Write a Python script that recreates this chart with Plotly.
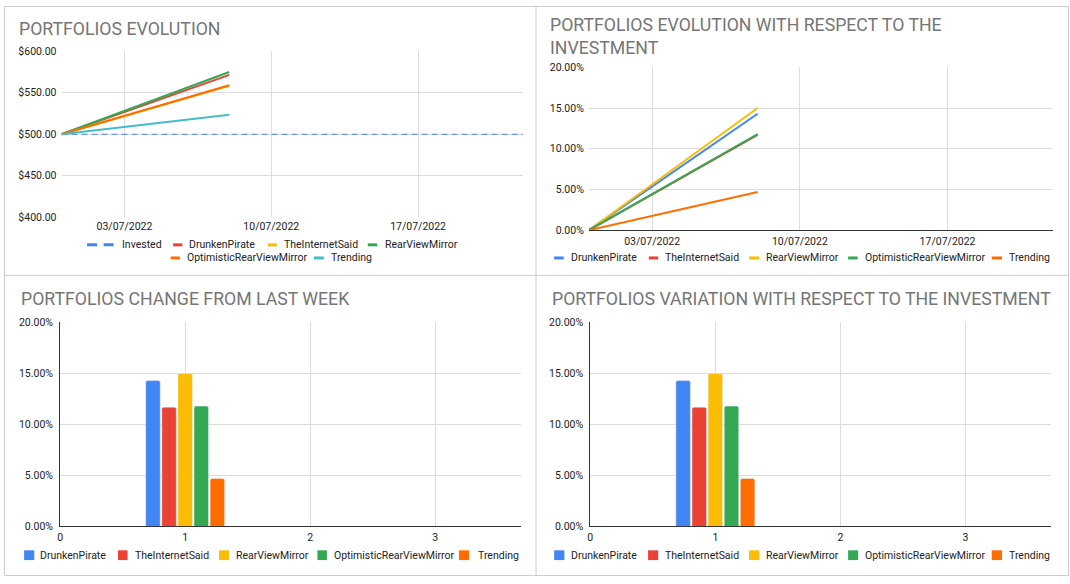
import plotly.graph_objects as go

W, H = 1070, 584

# ---------------- data ----------------
line_dates = ["2022-06-30", "2022-07-08"]
invested_dates = ["2022-06-30", "2022-07-08", "2022-07-15", "2022-07-22"]
invested_values = [500.0, 500.0, 500.0, 500.0]

series_names = ["DrunkenPirate", "TheInternetSaid", "RearViewMirror",
                "OptimisticRearViewMirror", "Trending"]

# portfolio values ($)
drunken_pirate_values = [500.0, 571.5]
the_internet_said_values = [500.0, 558.5]
rear_view_mirror_values = [500.0, 575.0]
optimistic_values = [500.0, 559.0]
trending_values = [500.0, 523.5]

# evolution with respect to the investment (fraction)
drunken_pirate_pct = [0.0, 0.143]
the_internet_said_pct = [0.0, 0.117]
rear_view_mirror_pct = [0.0, 0.150]
optimistic_pct = [0.0, 0.118]
trending_pct = [0.0, 0.047]

# change from last week (fraction)
week_numbers = [1]
drunken_pirate_week = [0.143]
the_internet_said_week = [0.117]
rear_view_mirror_week = [0.150]
optimistic_week = [0.118]
trending_week = [0.047]

# variation with respect to the investment (fraction)
drunken_pirate_var = [0.143]
the_internet_said_var = [0.117]
rear_view_mirror_var = [0.150]
optimistic_var = [0.118]
trending_var = [0.047]

date_ticks = ["2022-07-03", "2022-07-10", "2022-07-17"]

# ---------------- styling ----------------
BLUE, RED, YELLOW, GREEN, ORANGE, TEAL = ("#4285F4", "#EA4335", "#FBBC04",
                                          "#34A853", "#FF6D01", "#46BDC6")
FONT = "Roboto"
TICK_FONT = dict(family=FONT, size=10.5, color="#222222")
TITLE_FONT = dict(family=FONT, size=17.7, color="#757575")
GRID = "#dcdcdc"
AXIS_DARK = "#333333"
BORDER = "#cccccc"


def fx(px):
    return px / W


def fy(py):
    return 1 - py / H


def xdom(a, b):
    return [fx(a), fx(b)]


def ydom(top, bottom):
    return [fy(bottom), fy(top)]


fig = go.Figure()

# ---- top-left: values ----
tl_series = [
    ("Invested", invested_dates, invested_values, BLUE, "6px,4px", 1.2),
    ("DrunkenPirate", line_dates, drunken_pirate_values, RED, "solid", 2),
    ("TheInternetSaid", line_dates, the_internet_said_values, YELLOW, "solid", 2),
    ("RearViewMirror", line_dates, rear_view_mirror_values, GREEN, "solid", 2),
    ("OptimisticRearViewMirror", line_dates, optimistic_values, ORANGE, "solid", 2),
    ("Trending", line_dates, trending_values, TEAL, "solid", 2),
]
for name, xs, ys, c, d, w in tl_series:
    fig.add_trace(go.Scatter(x=xs, y=ys, name=name, mode="lines",
                             line=dict(color=c, width=w, dash=d),
                             xaxis="x", yaxis="y", showlegend=False))

# ---- top-right: percentage evolution ----
tr_values = [drunken_pirate_pct, the_internet_said_pct, rear_view_mirror_pct,
             optimistic_pct, trending_pct]
five_colors = [BLUE, RED, YELLOW, GREEN, ORANGE]
for name, ys, c in zip(series_names, tr_values, five_colors):
    fig.add_trace(go.Scatter(x=line_dates, y=ys, name=name, mode="lines",
                             line=dict(color=c, width=2),
                             xaxis="x2", yaxis="y2", showlegend=False))

# ---- bottom-left: change from last week ----
bl_values = [drunken_pirate_week, the_internet_said_week, rear_view_mirror_week,
             optimistic_week, trending_week]
for name, ys, c in zip(series_names, bl_values, five_colors):
    fig.add_trace(go.Bar(x=week_numbers, y=ys, name=name, marker_color=c,
                         xaxis="x3", yaxis="y3", showlegend=False))

# ---- bottom-right: variation ----
br_values = [drunken_pirate_var, the_internet_said_var, rear_view_mirror_var,
             optimistic_var, trending_var]
for name, ys, c in zip(series_names, br_values, five_colors):
    fig.add_trace(go.Bar(x=week_numbers, y=ys, name=name, marker_color=c,
                         xaxis="x4", yaxis="y4", showlegend=False))

# ---------------- axes ----------------
date_axis = dict(type="date", range=["2022-06-30", "2022-07-22"],
                 tickvals=date_ticks, tickformat="%d/%m/%Y",
                 showgrid=True, gridcolor=GRID, gridwidth=1,
                 zeroline=False, ticks="", tickfont=TICK_FONT,
                 ticklabelstandoff=1, fixedrange=True)
num_axis = dict(range=[0, 3.685], tick0=0, dtick=1, showgrid=True,
                gridcolor=GRID, zeroline=False, ticks="", tickfont=TICK_FONT,
                showline=True, linecolor=AXIS_DARK, linewidth=1,
                ticklabelstandoff=1)
pct_axis = dict(range=[0, 0.2], tick0=0, dtick=0.05, tickformat=".2%",
                showgrid=True, gridcolor=GRID, zeroline=False, ticks="",
                tickfont=TICK_FONT, ticklabelstandoff=4)

fig.update_layout(
    xaxis=dict(date_axis, domain=xdom(58.7, 521.4), anchor="y", showline=False),
    yaxis=dict(domain=ydom(46.3, 216), anchor="x", range=[400, 600], dtick=50,
               tick0=400, tickprefix="$", tickformat=",.2f", showgrid=True,
               gridcolor=GRID, zeroline=False, ticks="", tickfont=TICK_FONT,
               ticklabelstandoff=4),
    xaxis2=dict(date_axis, domain=xdom(587.5, 1053), anchor="y2",
                showline=True, linecolor=AXIS_DARK, linewidth=1),
    yaxis2=dict(pct_axis, domain=ydom(62.7, 229.3), anchor="x2"),
    xaxis3=dict(num_axis, domain=xdom(57.3, 519.3), anchor="y3"),
    yaxis3=dict(pct_axis, domain=ydom(323.7, 532.3), anchor="x3",
                showline=True, linecolor=AXIS_DARK, linewidth=1),
    xaxis4=dict(num_axis, domain=xdom(588.9, 1051.2), anchor="y4"),
    yaxis4=dict(pct_axis, domain=ydom(323.7, 532.3), anchor="x4",
                showline=True, linecolor=AXIS_DARK, linewidth=1),
    barmode="group", bargap=0.356, bargroupgap=0.1, barcornerradius=2,
    width=W, height=H, margin=dict(l=0, r=0, t=0, b=0),
    paper_bgcolor="white", plot_bgcolor="white", showlegend=False,
    font=dict(family=FONT),
)

shapes = []
annotations = []

# ---------------- panel borders ----------------
shapes.append(dict(type="rect", xref="paper", yref="paper",
                   x0=fx(1.5), x1=fx(1068.5), y0=fy(582.5), y1=fy(0.5),
                   line=dict(color=BORDER, width=1), fillcolor="rgba(0,0,0,0)"))
shapes.append(dict(type="line", xref="paper", yref="paper",
                   x0=fx(534.5), x1=fx(534.5), y0=fy(582.5), y1=fy(0.5),
                   line=dict(color=BORDER, width=1)))
shapes.append(dict(type="line", xref="paper", yref="paper",
                   x0=fx(1.5), x1=fx(1068.5), y0=fy(275.5), y1=fy(275.5),
                   line=dict(color=BORDER, width=1)))

# ---------------- titles ----------------
titles = [
    ("PORTFOLIOS EVOLUTION", 15.5, 23.3),
    ("PORTFOLIOS EVOLUTION WITH RESPECT TO THE<br>INVESTMENT", 548.0, 31.6),
    ("PORTFOLIOS CHANGE FROM LAST WEEK", 17.0, 299.2),
    ("PORTFOLIOS VARIATION WITH RESPECT TO THE INVESTMENT", 549.5, 299.2),
]
for text, x, y in titles:
    annotations.append(dict(text=text, xref="paper", yref="paper", x=fx(x),
                            y=fy(y), xanchor="left", yanchor="middle",
                            align="left", showarrow=False, font=TITLE_FONT,
                            borderpad=0))

# ---------------- legends ----------------
# (kind, color, label, marker_x0, marker_x1, text_x, y_center)
legend_items = [
    ("dash", BLUE, "Invested", 84.3, 110.9, 119.4, 244.3),
    ("line", RED, "DrunkenPirate", 170.6, 179.8, 187.0, 244.3),
    ("line", YELLOW, "TheInternetSaid", 265.5, 274.7, 281.8, 244.3),
    ("line", GREEN, "RearViewMirror", 365.8, 375.3, 382.8, 244.3),
    ("line", ORANGE, "OptimisticRearViewMirror", 168.2, 177.4, 184.2, 257.7),
    ("line", TEAL, "Trending", 311.9, 321.7, 328.6, 257.7),
]
tr_leg = [(552.7, 562.3, 569.1), (647.6, 657.1, 664.0), (748.2, 758.5, 765.3),
          (847.5, 857.1, 864.3), (991.5, 1001.8, 1008.6)]
for (x0, x1, tx), name, c in zip(tr_leg, series_names, five_colors):
    legend_items.append(("line", c, name, x0, x1, tx, 257.7))
bl_leg = [(21.2, 31.4, 36.8), (115.3, 124.9, 132.4), (216.7, 226.6, 233.4),
          (315.3, 324.8, 332.3), (457.2, 467.4, 476.3)]
for (x0, x1, tx), name, c in zip(bl_leg, series_names, five_colors):
    legend_items.append(("square", c, name, x0, x1, tx, 561.7))
br_leg = [(552.7, 563.0, 569.1), (646.9, 657.1, 664.0), (748.2, 758.5, 765.3),
          (847.5, 857.5, 864.3), (991.5, 1001.8, 1008.6)]
for (x0, x1, tx), name, c in zip(br_leg, series_names, five_colors):
    legend_items.append(("square", c, name, x0, x1, tx, 561.7))

for kind, c, label, x0, x1, tx, yc in legend_items:
    if kind == "square":
        shapes.append(dict(type="rect", xref="paper", yref="paper",
                           x0=fx(x0), x1=fx(x1), y0=fy(yc + 5), y1=fy(yc - 5),
                           fillcolor=c, line=dict(width=0)))
    else:
        shapes.append(dict(type="line", xref="paper", yref="paper",
                           x0=fx(x0), x1=fx(x1), y0=fy(yc), y1=fy(yc),
                           line=dict(color=c, width=3,
                                     dash="10px,6.6px" if kind == "dash" else "solid")))
    annotations.append(dict(text=label, xref="paper", yref="paper", x=fx(tx - 1),
                            y=fy(yc), xanchor="left", yanchor="middle",
                            showarrow=False, font=TICK_FONT, borderpad=0))

fig.update_layout(shapes=shapes, annotations=annotations)

fig.write_html("out.html")
